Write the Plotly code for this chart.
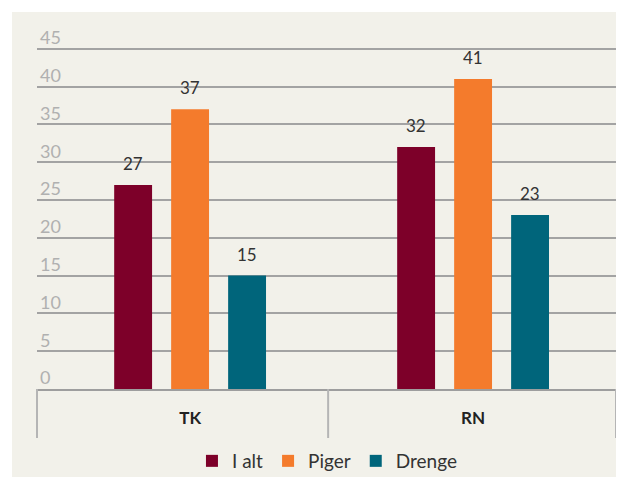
import plotly.graph_objects as go

categories = ["TK", "RN"]
series_names = ["I alt", "Piger", "Drenge"]
i_alt = [27, 32]
piger = [37, 41]
drenge = [15, 23]
y_ticks = [0, 5, 10, 15, 20, 25, 30, 35, 40, 45]

colors = ["#7d0029", "#f47b2c", "#00657b"]
values = [i_alt, piger, drenge]

# page body has an 8px margin, so the figure is drawn 8px in from the window corner
W, H = 616, 470
L, R, T, B = 29, 8, 3, 89
x_range = [-0.541, 1.505]
y_range = [0, 50]
bargap = 0.396
bargroupgap = 0.335
FONT = "Lato, 'Open Sans', sans-serif"

xpos = list(range(len(categories)))
fig = go.Figure()
for name, vals, col in zip(series_names, values, colors):
    fig.add_trace(go.Bar(x=xpos, y=vals, name=name, marker=dict(color=col, line=dict(width=0))))

# data labels above bars (offset within group computed from bar layout)
slot = (1 - bargap) / len(series_names)
ann = []
for k, vals in enumerate(values):
    off = (k - (len(series_names) - 1) / 2) * slot
    for i, v in enumerate(vals):
        ann.append(dict(x=xpos[i] + off, y=v, xref="x", yref="y", text=str(v),
                        showarrow=False, yanchor="bottom", yshift=9,
                        font=dict(family=FONT, size=17, color="#333333")))

plot_w = W - L - R
plot_h = H - T - B
def to_paper(xv):
    return (xv - x_range[0]) / (x_range[1] - x_range[0])
y_low = -49 / plot_h
shapes = [
    dict(type="rect", xref="paper", yref="paper", x0=-25 / plot_w, x1=(plot_w + R) / plot_w,
         y0=-88 / plot_h, y1=1 - 1 / plot_h, fillcolor="#f2f1ea", line=dict(width=0), layer="below"),
]
for xv in [0.0, to_paper(0.5) - 0.006, 1.0]:
    shapes.append(dict(type="line", xref="paper", yref="paper", x0=xv, x1=xv, y0=0, y1=y_low,
                       line=dict(color="#b5b5b5", width=2)))

fig.update_layout(
    width=W, height=H,
    margin=dict(l=L, r=R, t=T, b=B, autoexpand=False),
    paper_bgcolor="white",
    plot_bgcolor="rgba(0,0,0,0)",
    barmode="group", bargap=bargap, bargroupgap=bargroupgap,
    font=dict(family=FONT, size=16, color="#333333"),
    showlegend=True,
    legend=dict(orientation="h", x=to_paper(0.5) - 0.008, xanchor="center", y=-72 / plot_h,
                yanchor="middle",
                font=dict(family=FONT, size=19, color="#333333"), bgcolor="rgba(0,0,0,0)"),
    shapes=shapes,
    annotations=ann,
)
fig.update_xaxes(range=x_range, tickvals=xpos, ticktext=["<b>%s</b>" % c for c in categories],
                 showgrid=False, zeroline=False, showline=True, linecolor="#9e9e9e", linewidth=2,
                 ticks="", ticklabelstandoff=13, automargin=False,
                 tickfont=dict(family=FONT, size=17, color="#222222"), fixedrange=True)
fig.update_yaxes(range=y_range, tickvals=y_ticks, showgrid=True, gridcolor="#a3a3a3", gridwidth=1.5,
                 zeroline=False, showline=False, ticks="", ticklabelposition="inside",
                 ticklabelshift=-11, automargin=False,
                 tickfont=dict(family=FONT, size=18, color="#b0b0b0"),
                 fixedrange=True)

fig.write_html("out.html")
